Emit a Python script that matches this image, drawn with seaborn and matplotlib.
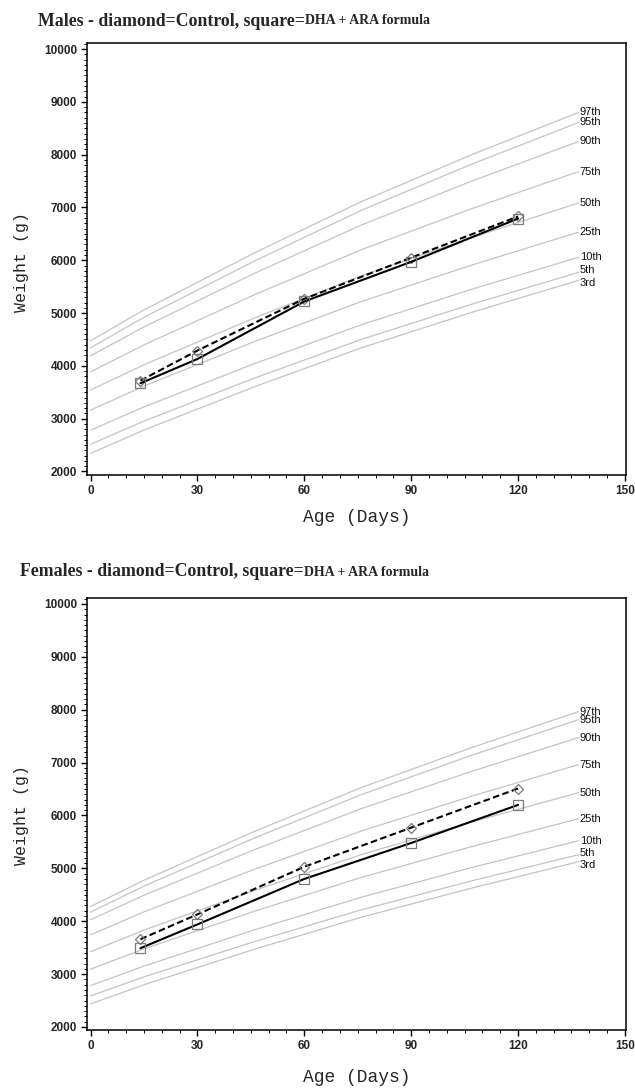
import numpy as np
import pandas as pd
import matplotlib
matplotlib.use("Agg")
import matplotlib.pyplot as plt
import seaborn as sns
from matplotlib.ticker import MultipleLocator
from matplotlib.transforms import offset_copy

sns.set_style("ticks")
plt.rcParams['font.family'] = ['Liberation Sans', 'DejaVu Sans']

# ---------------- data ----------------
curve_days = [0, 15, 46, 76, 107, 137]
pct_labels = ["97th", "95th", "90th", "75th", "50th", "25th", "10th", "5th", "3rd"]

male_p97 = [4476, 5060, 6140, 7110, 8000, 8800]
male_p95 = [4343, 4920, 5985, 6946, 7820, 8610]
male_p90 = [4190, 4738, 5753, 6667, 7499, 8250]
male_p75 = [3886, 4398, 5347, 6200, 6978, 7680]
male_p50 = [3543, 4021, 4907, 5704, 6430, 7086]
male_p25 = [3162, 3617, 4460, 5218, 5909, 6533]
male_p10 = [2781, 3223, 4042, 4779, 5451, 6057]
male_p05 = [2514, 2954, 3768, 4501, 5168, 5771]
male_p03 = [2343, 2785, 3604, 4341, 5013, 5619]

female_p97 = [4278, 4776, 5698, 6528, 7284, 7966]
female_p95 = [4172, 4664, 5574, 6394, 7140, 7814]
female_p90 = [4027, 4492, 5354, 6129, 6835, 7473]
female_p75 = [3742, 4177, 4982, 5706, 6366, 6962]
female_p50 = [3426, 3832, 4583, 5260, 5876, 6432]
female_p25 = [3093, 3477, 4189, 4829, 5412, 5939]
female_p10 = [2782, 3152, 3837, 4454, 5016, 5523]
female_p05 = [2587, 2948, 3615, 4216, 4764, 5258]
female_p03 = [2436, 2799, 3471, 4076, 4627, 5125]

visit_days = [14, 30, 60, 90, 120]
male_control = [3720, 4290, 5270, 6050, 6830]
male_dha = [3670, 4130, 5220, 5970, 6790]
female_control = [3660, 4130, 5030, 5770, 6510]
female_dha = [3490, 3940, 4800, 5480, 6200]

x_ticks = [0, 30, 60, 90, 120, 150]
y_ticks = [2000, 3000, 4000, 5000, 6000, 7000, 8000, 9000, 10000]

male_curves = [male_p97, male_p95, male_p90, male_p75, male_p50,
               male_p25, male_p10, male_p05, male_p03]
female_curves = [female_p97, female_p95, female_p90, female_p75, female_p50,
                 female_p25, female_p10, female_p05, female_p03]

W, H = 635, 1092
fig = plt.figure(figsize=(W / 100, H / 100), dpi=100)

tick_font = ['Liberation Sans Narrow', 'Liberation Sans', 'DejaVu Sans']
mono_font = ['Liberation Mono', 'DejaVu Sans Mono']
serif_font = ['Liberation Serif', 'DejaVu Serif']

label_nudge = {"5th": 1.5, "3rd": -2.0}


def panel(rect_px, ylim, curves, control, dha):
    l, t, r, b = rect_px
    ax = fig.add_axes([l / W, 1 - b / H, (r - l) / W, (b - t) / H])
    for lab, vals in zip(pct_labels, curves):
        df = pd.DataFrame({"day": curve_days, "w": vals})
        sns.lineplot(data=df, x="day", y="w", ax=ax, color="#c4c4c4",
                     lw=0.9, zorder=1)
        tr = offset_copy(ax.transData, fig=fig, x=0,
                         y=label_nudge.get(lab, 0.0), units="points")
        ax.text(curve_days[-1] + 0.3, vals[-1], lab, fontsize=8,
                family=tick_font, ha="left", va="center", color="#111111",
                transform=tr)
    dfc = pd.DataFrame({"day": visit_days, "w": control})
    sns.lineplot(data=dfc, x="day", y="w", ax=ax, color="black", lw=1.5,
                 linestyle=(0, (3.2, 1.6)), marker="D", markersize=5,
                 mfc="none", mec="#7a7a7a", mew=0.9, zorder=3)
    dfd = pd.DataFrame({"day": visit_days, "w": dha})
    sns.lineplot(data=dfd, x="day", y="w", ax=ax, color="black", lw=1.5,
                 marker="s", markersize=6.5, mfc="none", mec="#7a7a7a",
                 mew=0.9, zorder=3)
    ax.set_xlim(-1.0, 150.3)
    ax.set_ylim(*ylim)
    ax.set_xticks(x_ticks)
    ax.set_yticks(y_ticks)
    ax.xaxis.set_minor_locator(MultipleLocator(5))
    ax.yaxis.set_minor_locator(MultipleLocator(100))
    ax.tick_params(axis="both", which="major", direction="out", length=4,
                   width=1.0, labelsize=8.5, pad=3, color="black")
    ax.tick_params(axis="both", which="minor", direction="out", length=2,
                   width=0.7, color="black")
    for lab in ax.get_xticklabels() + ax.get_yticklabels():
        lab.set_family(tick_font)
        lab.set_fontweight("bold")
    for s in ax.spines.values():
        s.set_visible(True)
        s.set_linewidth(1.1)
        s.set_color("black")
    ax.set_xlabel("")
    ax.set_ylabel("")
    return ax


ax1 = panel((87, 43, 626, 475), (1933, 10115), male_curves, male_control, male_dha)
ax2 = panel((87, 598, 626, 1030), (1943, 10113), female_curves, female_control, female_dha)

# axis titles
for ax_, ylab_y, xlab_y in ((ax1, 262, 518), (ax2, 815, 1077)):
    fig.text(22 / W, 1 - ylab_y / H, "Weight (g)", rotation=90, ha="center",
             va="center", fontsize=12, family=mono_font)
    fig.text(357 / W, 1 - xlab_y / H, "Age (Days)", ha="center",
             va="center", fontsize=13, family=mono_font)

# titles with mixed font sizes
fig.canvas.draw()
renderer = fig.canvas.get_renderer()
for x0, yc, first in ((38, 21, "Males - diamond=Control, square="),
                      (20, 572, "Females - diamond=Control, square=")):
    t1 = fig.text(x0 / W, 1 - yc / H, first, ha="left", va="center",
                  fontsize=12.8, fontweight="bold", family=serif_font)
    bb = t1.get_window_extent(renderer=renderer)
    fig.text(bb.x1 / W, 1 - yc / H, "DHA + ARA formula", ha="left",
             va="center", fontsize=10, fontweight="bold", family=serif_font)

fig.savefig("out.png", dpi=100, facecolor="white")
